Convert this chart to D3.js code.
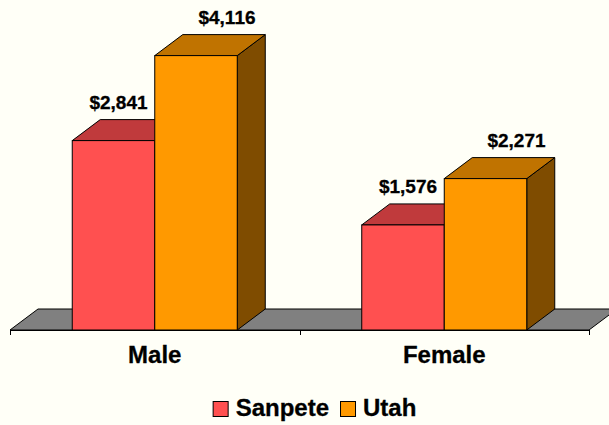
<!DOCTYPE html>
<html>
<head>
<meta charset="utf-8">
<script src="https://cdn.jsdelivr.net/npm/d3@7"></script>
<style>
  body { margin: 0; background: #fffff7; }
  svg { display: block; font-family: 'Liberation Sans', Arial, sans-serif; font-weight: bold; }
  text { fill: #000; stroke: #000; stroke-width: 0.3px; }
</style>
</head>
<body>
<div id="chart"></div>
<script>
const categories = ['Male', 'Female']
const series = ['Sanpete', 'Utah']
const sanpete = [2841, 1576]
const utah = [4116, 2271]
const valueLabels = [['$2,841', '$1,576'], ['$4,116', '$2,271']]

const width = 609
const height = 425
const depth = { dx: 28, dy: -21 }

const colors = {
  Sanpete: { front: '#ff5050', top: '#c03a3c', side: '#7f2828' },
  Utah: { front: '#ff9900', top: '#c07300', side: '#7f4c00' }
}

const svg = d3
  .select('#chart')
  .append('svg')
  .attr('width', width)
  .attr('height', height)

svg
  .append('rect')
  .attr('width', width)
  .attr('height', height)
  .attr('fill', '#fffff7')

const x0 = d3.scaleBand().domain(categories).range([10, 589])
const barW = x0.bandwidth() * 0.285
const x1 = d3
  .scaleBand()
  .domain(series)
  .range([x0.bandwidth() / 2 - barW, x0.bandwidth() / 2 + barW])
const y = d3.scaleLinear().domain([0, 4500]).range([330, 30])

// floor
const fl = x0.range()[0]
const fr = x0.range()[1]
const base = y(0)
svg
  .append('polygon')
  .attr('points', [
    [fl, base], [fr, base], [fr + depth.dx, base + depth.dy], [fl + depth.dx, base + depth.dy]
  ].join(' '))
  .attr('fill', '#808080')
  .attr('stroke', '#000')
  .attr('stroke-width', 1)

// axis line and ticks at band edges
svg
  .append('line')
  .attr('x1', fl)
  .attr('x2', fr)
  .attr('y1', base + 0.5)
  .attr('y2', base + 0.5)
  .attr('stroke', '#000')
const tickPos = categories.map(c => x0(c)).concat([fr])
svg
  .selectAll('.tick')
  .data(tickPos)
  .enter()
  .append('line')
  .attr('class', 'tick')
  .attr('x1', d => Math.round(d) + 0.5)
  .attr('x2', d => Math.round(d) + 0.5)
  .attr('y1', base)
  .attr('y2', base + 5)
  .attr('stroke', '#000')

// bars
const rows = []
series.forEach(function(s, si) {
  const vals = si === 0 ? sanpete : utah
  categories.forEach(function(c, ci) {
    rows.push({ s: s, si: si, c: c, v: vals[ci], label: valueLabels[si][ci] })
  })
})

const bars = svg
  .selectAll('.bar')
  .data(rows)
  .enter()
  .append('g')
  .attr('class', 'bar')

bars.each(function(d) {
  const g = d3.select(this)
  const xl = x0(d.c) + x1(d.s)
  const xr = xl + barW
  const yt = y(d.v)
  const { dx, dy } = depth
  g.append('polygon')
    .attr('points', [[xr, yt], [xr + dx, yt + dy], [xr + dx, base + dy], [xr, base]].join(' '))
    .attr('fill', colors[d.s].side)
    .attr('stroke', '#000')
  g.append('polygon')
    .attr('points', [[xl, yt], [xl + dx, yt + dy], [xr + dx, yt + dy], [xr, yt]].join(' '))
    .attr('fill', colors[d.s].top)
    .attr('stroke', '#000')
  g.append('rect')
    .attr('x', xl)
    .attr('y', yt)
    .attr('width', barW)
    .attr('height', base - yt)
    .attr('fill', colors[d.s].front)
    .attr('stroke', '#000')
})

// value labels
svg
  .selectAll('.value')
  .data(rows)
  .enter()
  .append('text')
  .attr('class', 'value')
  .attr('x', d => x0(d.c) + x1(d.s) + barW / 2 + (d.si === 0 ? 5 : 31))
  .attr('y', d => y(d.v) - 32)
  .attr('text-anchor', 'middle')
  .style('font-size', '19px')
  .text(d => d.label)

// category labels
svg
  .selectAll('.cat')
  .data(categories)
  .enter()
  .append('text')
  .attr('class', 'cat')
  .attr('x', d => x0(d) + x0.bandwidth() / 2)
  .attr('y', 363)
  .attr('text-anchor', 'middle')
  .style('font-size', '24px')
  .text(d => d)

// legend
const legend = svg.append('g').attr('class', 'legend')
let lx = 0
series.forEach(function(s) {
  legend
    .append('rect')
    .attr('x', lx + 0.5)
    .attr('y', 401.5)
    .attr('width', 15)
    .attr('height', 15)
    .attr('fill', colors[s].front)
    .attr('stroke', '#000')
  const t = legend
    .append('text')
    .attr('x', lx + 23)
    .attr('y', 416)
    .style('font-size', '24px')
    .text(s)
  lx += 23 + t.node().getComputedTextLength() + 11
})
const legendW = lx - 11
legend.attr('transform', 'translate(' + (314.5 - legendW / 2) + ',0)')
</script>
</body>
</html>
